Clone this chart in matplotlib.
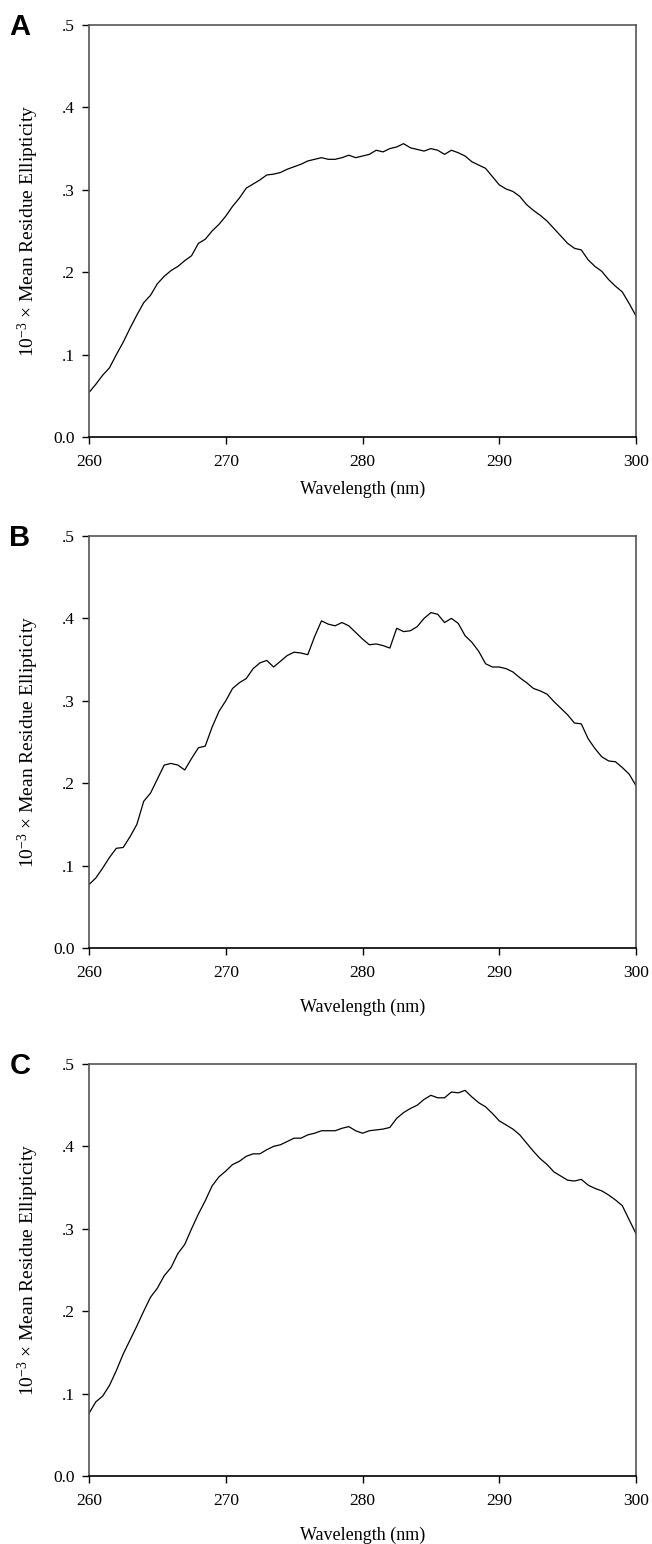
import numpy as np
import matplotlib
matplotlib.use("Agg")
import matplotlib.pyplot as plt

plt.rcParams['font.family'] = ['Liberation Serif', 'DejaVu Serif']
plt.rcParams['mathtext.fontset'] = 'custom'
plt.rcParams['mathtext.rm'] = 'Liberation Serif'
plt.rcParams['mathtext.it'] = 'Liberation Serif:italic'

# wavelength grid (nm), 0.5 nm steps
wavelength = np.arange(260, 300.01, 0.5)

panel_a = [0.054, 0.064, 0.075, 0.084, 0.100, 0.115, 0.132, 0.148, 0.163, 0.172,
           0.186, 0.195, 0.202, 0.207, 0.214, 0.220, 0.235, 0.240, 0.250, 0.258,
           0.268, 0.280, 0.290, 0.302, 0.307, 0.312, 0.318, 0.319, 0.321, 0.325,
           0.328, 0.331, 0.335, 0.337, 0.339, 0.337, 0.337, 0.339, 0.342, 0.339,
           0.341, 0.343, 0.348, 0.346, 0.350, 0.352, 0.356, 0.351, 0.349, 0.347,
           0.350, 0.348, 0.343, 0.348, 0.345, 0.341, 0.334, 0.330, 0.326, 0.316,
           0.306, 0.301, 0.298, 0.292, 0.282, 0.275, 0.269, 0.262, 0.253, 0.244,
           0.235, 0.229, 0.227, 0.215, 0.207, 0.201, 0.191, 0.183, 0.176, 0.162,
           0.147]

panel_b = [0.077, 0.085, 0.097, 0.110, 0.121, 0.122, 0.135, 0.150, 0.178, 0.188,
           0.205, 0.222, 0.224, 0.222, 0.216, 0.230, 0.243, 0.245, 0.268, 0.287,
           0.300, 0.315, 0.322, 0.327, 0.339, 0.346, 0.349, 0.341, 0.348, 0.355,
           0.359, 0.358, 0.356, 0.378, 0.397, 0.393, 0.391, 0.395, 0.391, 0.383,
           0.375, 0.368, 0.369, 0.367, 0.364, 0.388, 0.384, 0.385, 0.390, 0.400,
           0.407, 0.405, 0.395, 0.400, 0.394, 0.379, 0.371, 0.360, 0.345, 0.341,
           0.341, 0.339, 0.335, 0.328, 0.322, 0.315, 0.312, 0.308, 0.299, 0.291,
           0.283, 0.273, 0.272, 0.254, 0.242, 0.232, 0.227, 0.226, 0.219, 0.211,
           0.197]

panel_c = [0.076, 0.090, 0.097, 0.110, 0.128, 0.148, 0.165, 0.182, 0.200, 0.217,
           0.228, 0.243, 0.253, 0.270, 0.281, 0.300, 0.318, 0.334, 0.352, 0.363,
           0.370, 0.378, 0.382, 0.388, 0.391, 0.391, 0.396, 0.400, 0.402, 0.406,
           0.410, 0.410, 0.414, 0.416, 0.419, 0.419, 0.419, 0.422, 0.424, 0.419,
           0.416, 0.419, 0.420, 0.421, 0.423, 0.434, 0.441, 0.446, 0.450, 0.457,
           0.462, 0.459, 0.459, 0.466, 0.465, 0.468, 0.460, 0.453, 0.448, 0.440,
           0.431, 0.426, 0.421, 0.414, 0.404, 0.394, 0.385, 0.378, 0.369, 0.364,
           0.359, 0.358, 0.360, 0.353, 0.349, 0.346, 0.341, 0.335, 0.328, 0.311,
           0.294]

panel_letters = ['A', 'B', 'C']
x_ticks = [260, 270, 280, 290, 300]
y_ticks = [0.0, 0.1, 0.2, 0.3, 0.4, 0.5]
y_ticklabels = ['0.0', '.1', '.2', '.3', '.4', '.5']

W, H = 652, 1544
fig = plt.figure(figsize=(W / 100, H / 100), dpi=100)

# pixel boxes of the three panels (top, bottom) and x-label gap
boxes = [(25, 437), (536, 948), (1064, 1476)]
xlabel_pads = [8, 13, 13]
left_px, right_px = 89, 636

for series, letter, (top, bot), xpad in zip([panel_a, panel_b, panel_c], panel_letters,
                                            boxes, xlabel_pads):
    ax = fig.add_axes([left_px / W, 1 - bot / H, (right_px - left_px) / W, (bot - top) / H])
    ax.plot(wavelength, series, color='black', lw=0.9)
    ax.set_xlim(260, 300)
    ax.set_ylim(0, 0.5)
    ax.set_xticks(x_ticks)
    ax.set_yticks(y_ticks)
    ax.set_yticklabels(y_ticklabels)
    ax.tick_params(direction='out', length=5, width=1, labelsize=12.5, pad=5)
    ax.tick_params(axis='x', pad=7)
    for side in ['left', 'right', 'top']:
        ax.spines[side].set_color('#555555')
        ax.spines[side].set_linewidth(1.2)
    ax.spines['bottom'].set_color('black')
    ax.spines['bottom'].set_linewidth(1.2)
    ax.set_xlabel('Wavelength (nm)', fontsize=13, labelpad=xpad)
    ax.set_ylabel(r'$10^{-3}$ × Mean Residue Ellipticity', fontsize=14, labelpad=9)
    fig.text(20 / W, 1 - (top + 2) / H, letter, fontsize=21, fontweight='bold',
             family='Liberation Sans', ha='center', va='center')

fig.savefig('out.png', dpi=100)
